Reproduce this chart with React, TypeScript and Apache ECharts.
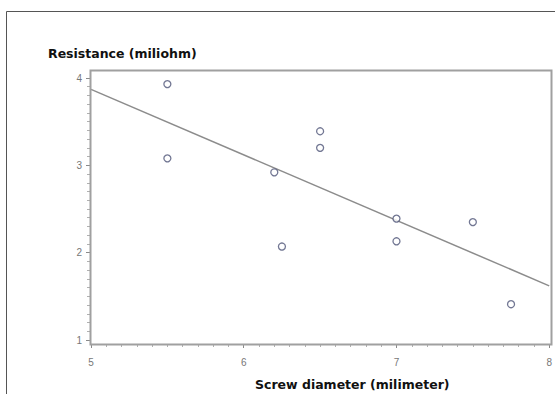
import React, { useEffect, useRef } from "react";
import * as echarts from "echarts";

const diameters = [5.5, 5.5, 6.2, 6.25, 6.5, 6.5, 7.0, 7.0, 7.5, 7.75];
const resistances = [3.93, 3.08, 2.92, 2.07, 3.39, 3.2, 2.39, 2.13, 2.35, 1.41];
const fitX = [5, 8];
const fitY = [3.87, 1.62];
const xTitle = "Screw diameter (milimeter)";
const yTitle = "Resistance (miliohm)";

export default function App() {
  const ref = useRef<HTMLDivElement>(null);
  useEffect(() => {
    if (!ref.current) return;
    const chart = echarts.init(ref.current, null, { renderer: "svg" });
    const points = diameters.map((d, i) => [d, resistances[i]]);
    const fit = fitX.map((x, i) => [x, fitY[i]]);
    const tickColor = "#8a8a8a";
    chart.setOption({
      animation: false,
      backgroundColor: "#ffffff",
      grid: { left: 91, right: 5, top: 78, bottom: 54 },
      xAxis: {
        type: "value",
        min: 5,
        max: 8,
        interval: 1,
        offset: 4,
        axisLine: { show: false },
        axisTick: { show: true, length: 4, lineStyle: { color: tickColor } },
        minorTick: { show: true, splitNumber: 10, length: 3, lineStyle: { color: "#b0b0b0" } },
        splitLine: { show: false },
        axisLabel: { color: "#777", fontSize: 10, fontFamily: "Liberation Sans", margin: 13 },
      },
      yAxis: {
        type: "value",
        min: 1,
        max: 4,
        interval: 1,
        offset: 1,
        axisLine: { show: false },
        axisTick: { show: true, length: 4, lineStyle: { color: tickColor } },
        minorTick: { show: true, splitNumber: 10, length: 3, lineStyle: { color: "#b0b0b0" } },
        splitLine: { show: false },
        axisLabel: { color: "#777", fontSize: 10, fontFamily: "Liberation Sans", margin: 8 },
      },
      graphic: [
        {
          type: "polyline",
          shape: { points: [[6.5, 394], [6.5, 11.5], [555, 11.5]] },
          style: { stroke: "#555", lineWidth: 1, fill: "none" },
          silent: true,
        },
        {
          type: "rect",
          shape: { x: 90.5, y: 70.5, width: 461, height: 274 },
          style: { stroke: "#a0a0a0", lineWidth: 2, fill: "none" },
          silent: true,
          z: 10,
        },
        {
          type: "text",
          left: 48,
          top: 47,
          style: { text: yTitle, font: "bold 12.5px 'DejaVu Sans'", fill: "#111" },
        },
        {
          type: "text",
          left: 255,
          top: 378,
          style: { text: xTitle, font: "bold 12.5px 'DejaVu Sans'", fill: "#111" },
        },
      ],
      series: [
        {
          type: "line",
          data: fit,
          symbol: "none",
          lineStyle: { color: "#8c8c8c", width: 1.5 },
          z: 2,
        },
        {
          type: "scatter",
          data: points,
          symbol: "circle",
          symbolSize: 7,
          itemStyle: { color: "#ffffff", borderColor: "#4f5578", borderWidth: 1.3 },
          z: 3,
        },
      ],
    });
    return () => chart.dispose();
  }, []);
  return <div ref={ref} style={{ width: 555, height: 394, position: "absolute", left: 0, top: 0 }} />;
}
